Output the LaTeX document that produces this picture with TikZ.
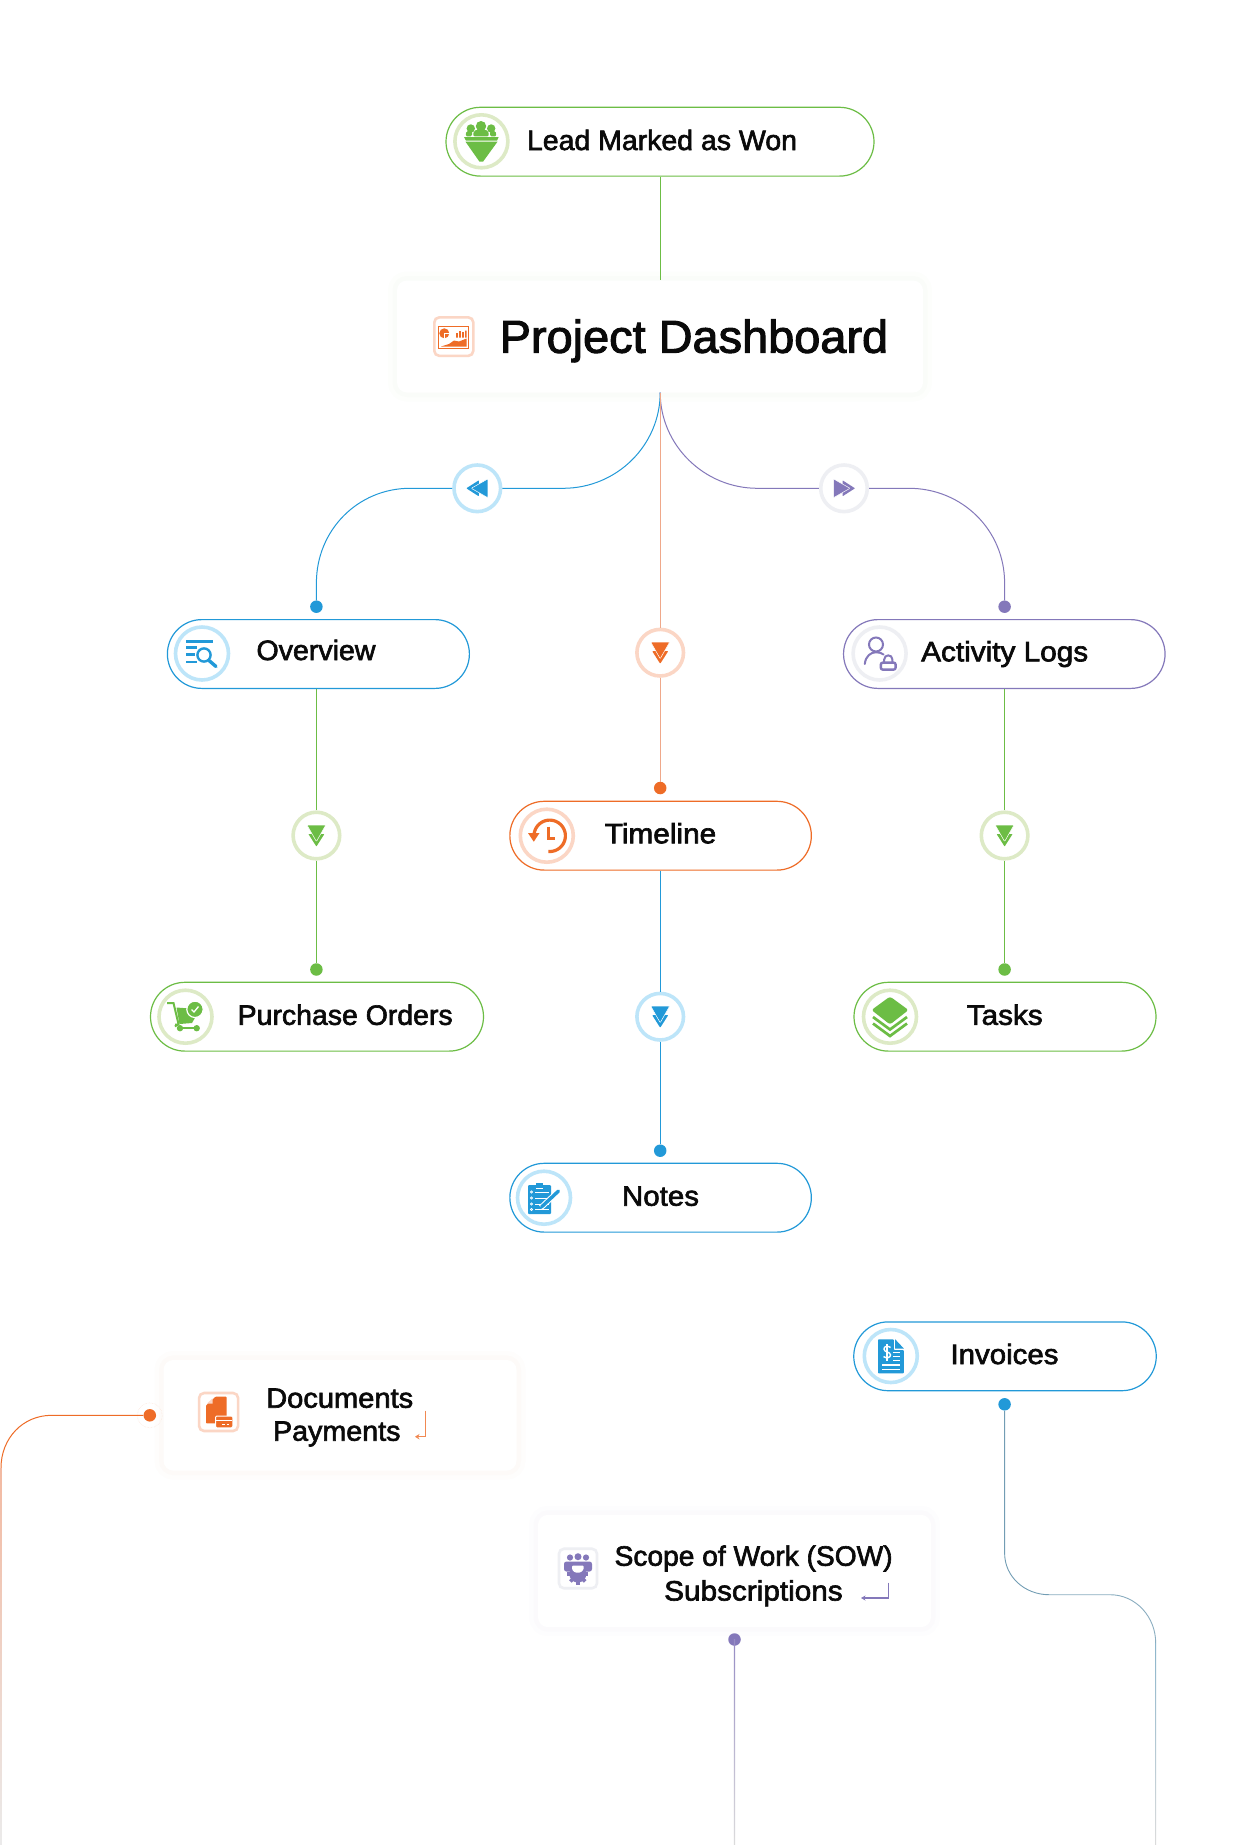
\documentclass[tikz,border=0pt]{standalone}
\usepackage{fontspec}
\usepackage{graphicx}
\setmainfont[FakeBold=2.2]{Liberation Sans}
\usetikzlibrary{arrows.meta}
\definecolor{cgreen}{HTML}{6CBD45}
\definecolor{cblue}{HTML}{2299D8}
\definecolor{corange}{HTML}{EE6C27}
\definecolor{cpurple}{HTML}{8478BA}
\definecolor{rgreen}{HTML}{DDEAC6}
\definecolor{rblue}{HTML}{BDE5F9}
\definecolor{rorange}{HTML}{FBD6C5}
\definecolor{rgrey}{HTML}{EEEFF3}
\definecolor{cpeach}{HTML}{EFA88A}
\definecolor{ctext}{HTML}{0A0A0A}
\newcommand{\fit}[2]{\resizebox{#1pt}{\height}{#2}}
\newcommand{\dbl}[3]{%
 \begin{scope}[shift={(#1)},rotate=#3]
  \fill[#2,rounded corners=.6pt] (-8,-1.5)--(8,-1.5)--(0,11)--cycle;
  \fill[#2,draw=white,line width=.5pt,rounded corners=.6pt] (-9.4,-10.5)--(9.4,-10.5)--(0,6)--cycle;
 \end{scope}}
\tikzset{
 pill/.style={draw=#1,line width=1.2pt,fill=white,rounded corners=34.4pt,inner sep=0pt,minimum height=68.8pt},
 lbl/.style={inner sep=0pt,anchor=base,text=ctext},
 lblw/.style={inner sep=0pt,anchor=base west,text=ctext},
 ring/.style={circle,draw=#1,line width=3.6pt,fill=white,minimum size=46.6pt,inner sep=0pt},
 bigring/.style={circle,draw=#1,line width=3.6pt,fill=white,minimum size=53pt,inner sep=0pt},
 pin/.style={circle,fill=#1,minimum size=12.5pt,inner sep=0pt},
 link/.style={draw=#1,line width=1pt},
 card/.style={fill=white,rounded corners=10pt,inner sep=0pt,
   preaction={draw=#1,opacity=.012,line width=18pt},
   preaction={draw=#1,opacity=.016,line width=9pt}},
 iconbox/.style={draw=#1,line width=2.6pt,fill=white,rounded corners=5pt,inner sep=0pt},
}
\begin{document}
\begin{tikzpicture}[x=1pt,y=-1pt,font=\fontsize{28}{33}\selectfont]
\useasboundingbox (0,0) rectangle (1237,1845);
\fill[white] (0,0) rectangle (1237,1845);
% ---------- anchors of curved links
\coordinate (fork) at (660.2,392.5);
\coordinate (dotLend) at (316.4,583);
\coordinate (dotRend) at (1004.6,583);
% ---------- pills
\node[pill=cgreen,minimum width=428pt] (lead) at (660,141.7) {};
\node[pill=cblue,minimum width=302pt] (overview) at (318.4,654) {};
\node[pill=cpurple,minimum width=321.5pt] (activity) at (1004.3,654) {};
\node[pill=corange,minimum width=301.5pt] (timeline) at (660.6,835.7) {};
\node[pill=cgreen,minimum width=333pt] (purchase) at (317,1016.7) {};
\node[pill=cgreen,minimum width=302pt] (tasks) at (1005,1016.7) {};
\node[pill=cblue,minimum width=301.5pt] (notes) at (660.6,1197.7) {};
\node[pill=cblue,minimum width=302.5pt] (invoices) at (1005,1356.3) {};
% ---------- cards
\node[card=cgreen,minimum width=526pt,minimum height=112pt] (dash) at (660,336.5) {};
\node[card=corange,minimum width=353pt,minimum height=110.7pt] (docs) at (340,1415.3) {};
\node[card=cpurple,minimum width=393pt,minimum height=112.3pt] (sow) at (734.5,1571) {};
% ---------- pins
\node[pin=cblue] (pinOverview) at (316.4,606.7) {};
\node[pin=cpurple] (pinActivity) at (1004.6,606.7) {};
\node[pin=corange] (pinTimeline) at (660.2,788) {};
\node[pin=cgreen] (pinPurchase) at (316.4,969.5) {};
\node[pin=cgreen] (pinTasks) at (1004.6,969.5) {};
\node[pin=cblue] (pinNotes) at (660.2,1150.7) {};
\node[pin=cblue] (pinInvoices) at (1004.6,1404.3) {};
\node[pin=cpurple] (pinSow) at (734.5,1639.5) {};
\node[pin=corange] (pinDocs) at (149.8,1415.3) {};
\draw[corange!18,line width=.5pt,densely dotted] (pinDocs) circle (12.5pt);
% ---------- step rings
\node[ring=rblue] (rL) at (477.3,488.3) {};
\node[ring=rgrey] (rR) at (844,488.3) {};
\node[ring=rorange] (rM) at (660.2,652.7) {};
\node[ring=rgreen] (rO) at (316.4,835.5) {};
\node[ring=rgreen] (rA) at (1004.6,835.5) {};
\node[ring=rblue] (rT) at (660.2,1016.7) {};
% ---------- links
\draw[link=cgreen] (lead.south -| fork) -- (fork |- dash.north);
\draw[link=cblue] (fork) .. controls (660.2,445) and (617,488.3) .. (563,488.3) -- (rL.east);
\draw[link=cblue] (rL.west) -- (410,488.3) .. controls (358,488.3) and (316.4,530) .. (dotLend) -- (pinOverview);
\draw[link=cpurple] (fork) .. controls (660.2,445) and (704,488.3) .. (757.5,488.3) -- (rR.west);
\draw[link=cpurple] (rR.east) -- (909,488.3) .. controls (962,488.3) and (1004.6,530) .. (dotRend) -- (pinActivity);
\draw[link=cpeach] (fork) -- (rM.north);
\draw[link=cpeach] (rM.south) -- (pinTimeline);
\draw[link=cgreen] (overview.south -| pinOverview) -- (rO.north);
\draw[link=cgreen] (rO.south) -- (pinPurchase);
\draw[link=cgreen] (activity.south -| pinActivity) -- (rA.north);
\draw[link=cgreen] (rA.south) -- (pinTasks);
\draw[link=cblue] (timeline.south -| pinTimeline) -- (rT.north);
\draw[link=cblue] (rT.south) -- (pinNotes);
% ---------- fading links
\draw[link=corange] (pinDocs) -- (51.6,1415.3) .. controls (23,1415.3) and (1,1438) .. (1,1468);
\shade[top color=cpeach!80,bottom color=black!8] (0,1468) rectangle (1.8,1845);
\draw[line width=.9pt,draw=cblue!60!black!60!white] (pinInvoices) -- (1004.6,1553) .. controls (1004.6,1577) and (1025,1594.7) .. (1049,1594.7);
\draw[line width=.9pt,draw=cblue!60!black!50!white] (1049,1594.7) -- (1110,1594.7) .. controls (1136,1594.7) and (1155.7,1617) .. (1155.7,1643);
\shade[top color=cblue!70!black!50!white,bottom color=black!14] (1155.2,1643) rectangle (1156.2,1845);
\shade[top color=cpurple!85,bottom color=black!14] (733.9,1639.5) rectangle (735.1,1845);
% ---------- ring arrows
\dbl{rL}{cblue}{-90}
\dbl{rR}{cpurple}{90}
\dbl{rM}{corange}{0}
\dbl{rO}{cgreen}{0}
\dbl{rA}{cgreen}{0}
\dbl{rT}{cblue}{0}
% ---------- icon rings
\node[bigring=rgreen] (iLead) at (481.4,141.3) {};
\node[bigring=rblue] (iOver) at (202,653.5) {};
\node[bigring=rgrey] (iAct) at (879.6,653.5) {};
\node[bigring=rorange] (iTime) at (546.8,835.7) {};
\node[bigring=rgreen] (iPur) at (185.5,1016.7) {};
\node[bigring=rgreen] (iTask) at (890,1016.7) {};
\node[bigring=rblue] (iNote) at (544,1197.7) {};
\node[bigring=rblue] (iInv) at (890.8,1356) {};
% funnel
\fill[cgreen] (464,137) -- (498.7,137) -- (497,140.7) -- (466,140.7) -- cycle;
\fill[cgreen] (465.5,141.7) -- (497.5,141.7) -- (483,161.7) -- (479.5,161.7) -- cycle;
\fill[cgreen] (481,126.2) circle (5.2);
\fill[cgreen] (470.8,128.5) circle (4.2);
\fill[cgreen] (491.2,128.5) circle (4.2);
\fill[cgreen,rounded corners=2pt] (473,136.4) -- (474,130) -- (488,130) -- (489,136.4) -- cycle;
\fill[cgreen,rounded corners=1.5pt] (465.5,136.4) -- (466.5,131) -- (472,131) -- (472,136.4) -- cycle;
\fill[cgreen,rounded corners=1.5pt] (490,136.4) -- (490,131) -- (495.5,131) -- (496.5,136.4) -- cycle;
% overview icon
\draw[cblue,line width=2.4pt] (186,641.3) -- (213,641.3);
\draw[cblue,line width=2.2pt] (186,647.5) -- (197,647.5) (186,654.5) -- (195,654.5) (186,661.7) -- (197,661.7);
\draw[cblue,line width=2.4pt] (204,655) circle (6.6);
\draw[cblue,line width=3.4pt,line cap=round] (209,660.5) -- (216,666.5);
% activity icon
\draw[cpurple,line width=2pt] (876,644.5) circle (7);
\draw[cpurple,line width=2pt,line cap=round] (864.8,664) .. controls (865.5,656) and (871,652.2) .. (876,652.2) .. controls (879,652.2) and (881.5,653) .. (883.5,654.5);
\draw[cpurple,line width=2pt] (884.2,662.5) -- (884.2,659.5) .. controls (884.2,654) and (892.4,654) .. (892.4,659.5) -- (892.4,662.5);
\draw[cpurple,line width=2.4pt,rounded corners=2pt] (880.8,662.6) rectangle (895.6,669.6);
% timeline icon
\draw[corange,line width=3.2pt] plot[domain=172:-95,samples=50] ({549.7+15.7*cos(\x)},{835.8-15.7*sin(\x)});
\fill[corange] (528,833) -- (539.5,833) -- (533.8,841.7) -- cycle;
\draw[corange,line width=3pt] (548,826.7) -- (548,838) -- (554.5,838);
% cart icon
\fill[cgreen] (176.5,1007.5) -- (190,1008.5) -- (196,1016) -- (192,1023) -- (179.5,1024) -- cycle;
\draw[cgreen,line width=2pt] (167,1003) -- (173.5,1003) -- (178.5,1024) -- (175,1026.5) (175,1024.5) -- (179,1024.5);
\fill[cgreen,draw=white,line width=1.2pt] (195,1009.3) circle (8.2);
\draw[white,line width=1.3pt] (191.5,1009.5) -- (194,1012) -- (198.5,1006.5);
\fill[cgreen] (180,1028.2) circle (3.2) (196.7,1028.2) circle (3.2);
\draw[cgreen,line width=1.6pt] (180,1028.2) -- (196.7,1028.2);
% layers icon
\fill[cgreen,rounded corners=2.5pt] (890,996.5) -- (908.5,1010) -- (890,1024.5) -- (871.5,1010) -- cycle;
\draw[cgreen,line width=2.7pt] (873,1017) -- (890,1029.5) -- (907,1017);
\draw[cgreen,line width=2.7pt] (873,1023.5) -- (890,1036) -- (907,1023.5);
% notes icon
\fill[cblue,rounded corners=1pt] (528,1185) rectangle (551,1214);
\fill[cblue] (536,1182.7) rectangle (543,1186);
\draw[white,line width=.8pt] (536,1188) -- (543,1188);
\foreach \yy in {1192,1198,1204,1209.5}{
 \draw[white,line width=.7pt] (531.5,\yy) circle (1.1);
 \draw[white,line width=1pt] (535,\yy) -- (549,\yy);}
\draw[white,line width=5.5pt] (557.5,1192) -- (541,1207.5);
\draw[cblue,line width=3.4pt,line cap=round] (558.5,1191) -- (541.5,1207);
\draw[cblue,line width=1pt] (535,1210) -- (547,1210);
% invoice icon
\fill[cblue,rounded corners=.8pt] (878,1339.3) -- (893.8,1339.3) -- (893.8,1350) -- (903.8,1350) -- (903.8,1373.3) -- (878,1373.3) -- cycle;
\fill[cblue] (895.2,1339.3) -- (903.8,1348.5) -- (895.2,1348.5) -- cycle;
\draw[white,line width=1.4pt] (890.5,1347.5) .. controls (888,1345.5) and (884,1346) .. (884,1349) .. controls (884,1352.5) and (890.5,1351.5) .. (890.5,1355) .. controls (890.5,1358) and (886,1358.5) .. (883.5,1356.5);
\draw[white,line width=1.2pt] (887,1344) -- (887,1360.5);
\draw[white,line width=1pt] (893,1352) -- (899.5,1352) (893,1356) -- (899.5,1356) (893,1360) -- (899.5,1360);
\draw[white,line width=1.3pt] (882,1365) -- (899.5,1365) (882,1369.3) -- (899.5,1369.3);
% ---------- card icons
\node[iconbox=rorange,minimum width=39pt,minimum height=38.5pt] (iDash) at (453.8,336.6) {};
\draw[corange,line width=1pt] (438,326) rectangle (468.6,348.3);
\fill[corange] (444.3,333.3) circle (5);
\draw[white,line width=.8pt] (444.3,333.3) -- (450,333.3) (444.3,333.3) -- (444.3,339);
\fill[corange] (456,333) rectangle (457.8,337.5) (459,331) rectangle (460.8,337.5) (462,332) rectangle (463.8,337.5) (465,330.5) rectangle (466.5,337.5);
\fill[corange] (441,346.5) -- (449,344) -- (454,340.5) -- (459,341.5) -- (466.5,338.5) -- (466.5,346.5) -- cycle;
\node[iconbox=rorange,minimum width=39pt,minimum height=38pt] (iDocs) at (218.6,1412) {};
\fill[corange,rounded corners=.7pt] (206,1405.5) -- (215.5,1396.7) -- (226.6,1396.7) -- (226.6,1423.3) -- (206,1423.3) -- cycle;
\fill[rorange] (207,1403.5) -- (212.5,1398.5) -- (212.5,1403.5) -- cycle;
\fill[corange,draw=white,line width=1pt,rounded corners=1.2pt] (215.5,1416) rectangle (232.8,1427.8);
\draw[white,line width=.9pt] (216,1420) -- (232.3,1420);
\draw[white,line width=1pt] (222,1424) -- (224.5,1424) (226.5,1424) -- (229,1424);
\node[iconbox=rgrey,minimum width=38pt,minimum height=39.5pt] (iSow) at (578,1568.5) {};
\fill[cpurple] (570,1557.5) circle (3.1) (578,1556.7) circle (3.5) (586,1557.5) circle (3.1);
\fill[cpurple,rounded corners=2.5pt] (564,1561.5) rectangle (592,1571.5);
\fill[cpurple] (577.8,1574) circle (8.5);
\foreach \aa in {0,45,...,315}{\fill[cpurple,rotate around={\aa:(577.8,1574)}] (576,1563.5) rectangle (579.6,1567);}
\fill[white,rounded corners=1pt] (572,1565.5) -- (583.6,1565.5) -- (583.6,1569.5) -- (580.5,1572.5) -- (575,1572.5) -- (572,1569.5) -- cycle;
% ---------- return arrows
\draw[cpurple,line width=1.3pt,-{Stealth[length=4.5pt,width=5pt]}] (888.6,1582.7) -- (888.6,1598) -- (861,1598);
\draw[corange!80!white,line width=1.4pt,-{Stealth[length=4.5pt,width=5.5pt]}] (425.3,1410.7) -- (425.3,1436.7) -- (415,1436.7);
% ---------- texts
\node[lblw] (tLead) at (526.8,150) {\fit{270}{Lead Marked as Won}};
\node[lblw,font=\fontsize{46}{50}\selectfont] (tDash) at (499.5,352.7) {\fit{388.5}{Project Dashboard}};
\node[lbl] (tOver) at (316,660) {\fit{119}{Overview}};
\node[lbl] (tAct) at (1004.7,661.3) {\fit{167}{Activity Logs}};
\node[lbl] (tTime) at (660.5,843.3) {\fit{111.5}{Timeline}};
\node[lbl] (tPur) at (345.2,1024.8) {\fit{215}{Purchase Orders}};
\node[lbl] (tTask) at (1004.7,1024.8) {\fit{76}{Tasks}};
\node[lbl] (tNote) at (660.5,1205.7) {\fit{77}{Notes}};
\node[lbl] (tInv) at (1004.5,1364) {\fit{108}{Invoices}};
\node[lblw] (tDoc) at (266,1407.7) {\fit{147}{Documents}};
\node[lblw] (tPay) at (272.8,1440.7) {\fit{127.5}{Payments}};
\node[lblw] (tSow) at (614.4,1565.7) {\fit{278}{Scope of Work (SOW)}};
\node[lblw] (tSub) at (664,1600.5) {\fit{178.5}{Subscriptions}};
\end{tikzpicture}
\end{document}
